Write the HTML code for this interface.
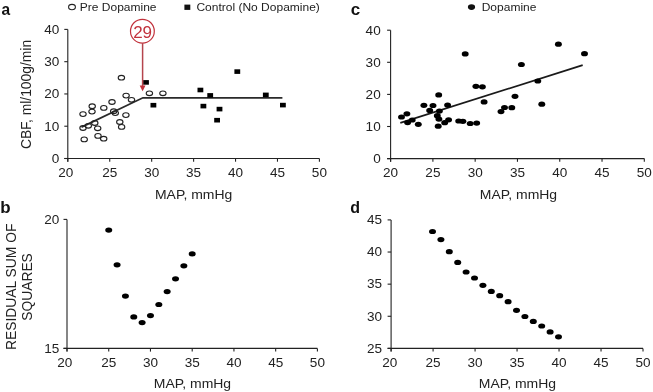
<!DOCTYPE html>
<html><head><meta charset="utf-8"><style>
html,body{margin:0;padding:0;background:#fff;width:653px;height:392px;overflow:hidden}
svg{display:block;font-family:"Liberation Sans", sans-serif;will-change:transform}
</style></head><body>
<svg width="653" height="392" viewBox="0 0 653 392">
<rect width="653" height="392" fill="#fff"/>
<line x1="67.80" y1="29.40" x2="67.80" y2="161.70" stroke="#222" stroke-width="1.1"/>
<line x1="64.30" y1="158.50" x2="319.41" y2="158.50" stroke="#222" stroke-width="1.1"/>
<line x1="64.30" y1="158.50" x2="67.80" y2="158.50" stroke="#222" stroke-width="1.1"/>
<text transform="translate(59.30,162.80) scale(1.02,1)" font-size="13.3" text-anchor="end" font-weight="normal" fill="#222">0</text>
<line x1="64.30" y1="126.22" x2="67.80" y2="126.22" stroke="#222" stroke-width="1.1"/>
<text transform="translate(59.30,130.53) scale(1.02,1)" font-size="13.3" text-anchor="end" font-weight="normal" fill="#222">10</text>
<line x1="64.30" y1="93.95" x2="67.80" y2="93.95" stroke="#222" stroke-width="1.1"/>
<text transform="translate(59.30,98.25) scale(1.02,1)" font-size="13.3" text-anchor="end" font-weight="normal" fill="#222">20</text>
<line x1="64.30" y1="61.68" x2="67.80" y2="61.68" stroke="#222" stroke-width="1.1"/>
<text transform="translate(59.30,65.98) scale(1.02,1)" font-size="13.3" text-anchor="end" font-weight="normal" fill="#222">30</text>
<line x1="64.30" y1="29.40" x2="67.80" y2="29.40" stroke="#222" stroke-width="1.1"/>
<text transform="translate(59.30,33.70) scale(1.02,1)" font-size="13.3" text-anchor="end" font-weight="normal" fill="#222">40</text>
<line x1="67.80" y1="158.50" x2="67.80" y2="161.70" stroke="#222" stroke-width="1.1"/>
<text transform="translate(65.80,176.60) scale(1.02,1)" font-size="13.3" text-anchor="middle" font-weight="normal" fill="#222">20</text>
<line x1="109.73" y1="158.50" x2="109.73" y2="161.70" stroke="#222" stroke-width="1.1"/>
<text transform="translate(109.73,176.60) scale(1.02,1)" font-size="13.3" text-anchor="middle" font-weight="normal" fill="#222">25</text>
<line x1="151.67" y1="158.50" x2="151.67" y2="161.70" stroke="#222" stroke-width="1.1"/>
<text transform="translate(151.67,176.60) scale(1.02,1)" font-size="13.3" text-anchor="middle" font-weight="normal" fill="#222">30</text>
<line x1="193.61" y1="158.50" x2="193.61" y2="161.70" stroke="#222" stroke-width="1.1"/>
<text transform="translate(193.61,176.60) scale(1.02,1)" font-size="13.3" text-anchor="middle" font-weight="normal" fill="#222">35</text>
<line x1="235.54" y1="158.50" x2="235.54" y2="161.70" stroke="#222" stroke-width="1.1"/>
<text transform="translate(235.54,176.60) scale(1.02,1)" font-size="13.3" text-anchor="middle" font-weight="normal" fill="#222">40</text>
<line x1="277.48" y1="158.50" x2="277.48" y2="161.70" stroke="#222" stroke-width="1.1"/>
<text transform="translate(277.48,176.60) scale(1.02,1)" font-size="13.3" text-anchor="middle" font-weight="normal" fill="#222">45</text>
<line x1="319.41" y1="158.50" x2="319.41" y2="161.70" stroke="#222" stroke-width="1.1"/>
<text transform="translate(319.41,176.60) scale(1.02,1)" font-size="13.3" text-anchor="middle" font-weight="normal" fill="#222">50</text>
<polyline points="81.5,127.1 142.9,97.8 282.4,97.85" fill="none" stroke="#2a2a2a" stroke-width="1.8"/>
<ellipse cx="121.4" cy="77.7" rx="3.2" ry="2.35" fill="none" stroke="#222" stroke-width="1.1"/>
<ellipse cx="126.1" cy="95.6" rx="3.2" ry="2.35" fill="none" stroke="#222" stroke-width="1.1"/>
<ellipse cx="131.5" cy="99.8" rx="3.2" ry="2.35" fill="none" stroke="#222" stroke-width="1.1"/>
<ellipse cx="112.0" cy="102.0" rx="3.2" ry="2.35" fill="none" stroke="#222" stroke-width="1.1"/>
<ellipse cx="92.2" cy="106.2" rx="3.2" ry="2.35" fill="none" stroke="#222" stroke-width="1.1"/>
<ellipse cx="92.0" cy="111.6" rx="3.2" ry="2.35" fill="none" stroke="#222" stroke-width="1.1"/>
<ellipse cx="103.8" cy="107.9" rx="3.2" ry="2.35" fill="none" stroke="#222" stroke-width="1.1"/>
<ellipse cx="83.0" cy="114.1" rx="3.2" ry="2.35" fill="none" stroke="#222" stroke-width="1.1"/>
<ellipse cx="113.7" cy="111.2" rx="3.2" ry="2.35" fill="none" stroke="#222" stroke-width="1.1"/>
<ellipse cx="115.3" cy="113.1" rx="3.2" ry="2.35" fill="none" stroke="#222" stroke-width="1.1"/>
<ellipse cx="125.9" cy="115.1" rx="3.2" ry="2.35" fill="none" stroke="#222" stroke-width="1.1"/>
<ellipse cx="119.8" cy="122.0" rx="3.2" ry="2.35" fill="none" stroke="#222" stroke-width="1.1"/>
<ellipse cx="121.6" cy="126.9" rx="3.2" ry="2.35" fill="none" stroke="#222" stroke-width="1.1"/>
<ellipse cx="94.8" cy="123.0" rx="3.2" ry="2.35" fill="none" stroke="#222" stroke-width="1.1"/>
<ellipse cx="88.3" cy="125.8" rx="3.2" ry="2.35" fill="none" stroke="#222" stroke-width="1.1"/>
<ellipse cx="83.0" cy="128.0" rx="3.2" ry="2.35" fill="none" stroke="#222" stroke-width="1.1"/>
<ellipse cx="97.7" cy="128.3" rx="3.2" ry="2.35" fill="none" stroke="#222" stroke-width="1.1"/>
<ellipse cx="98.0" cy="135.9" rx="3.2" ry="2.35" fill="none" stroke="#222" stroke-width="1.1"/>
<ellipse cx="103.7" cy="138.7" rx="3.2" ry="2.35" fill="none" stroke="#222" stroke-width="1.1"/>
<ellipse cx="84.2" cy="139.4" rx="3.2" ry="2.35" fill="none" stroke="#222" stroke-width="1.1"/>
<ellipse cx="149.4" cy="93.3" rx="3.2" ry="2.35" fill="none" stroke="#222" stroke-width="1.1"/>
<ellipse cx="162.9" cy="93.3" rx="3.2" ry="2.35" fill="none" stroke="#222" stroke-width="1.1"/>
<rect x="143.10" y="80.10" width="5.8" height="4.6" fill="#000"/>
<rect x="150.50" y="102.90" width="5.8" height="4.6" fill="#000"/>
<rect x="197.50" y="87.70" width="5.8" height="4.6" fill="#000"/>
<rect x="207.30" y="93.10" width="5.8" height="4.6" fill="#000"/>
<rect x="200.50" y="103.80" width="5.8" height="4.6" fill="#000"/>
<rect x="216.60" y="106.80" width="5.8" height="4.6" fill="#000"/>
<rect x="214.20" y="117.90" width="5.8" height="4.6" fill="#000"/>
<rect x="234.40" y="69.30" width="5.8" height="4.6" fill="#000"/>
<rect x="262.90" y="92.60" width="5.8" height="4.6" fill="#000"/>
<rect x="280.00" y="102.80" width="5.8" height="4.6" fill="#000"/>
<circle cx="142.4" cy="31.2" r="11.9" fill="#fff" stroke="#c2323c" stroke-width="1.2"/>
<text transform="translate(142.60,38.10)" font-size="17" text-anchor="middle" font-weight="normal" fill="#c2323c">29</text>
<line x1="142.60" y1="43.10" x2="142.60" y2="87.00" stroke="#b5454d" stroke-width="1.5"/>
<polygon points="139.7,85.6 145.5,85.6 142.6,91.2" fill="#c2323c"/>
<ellipse cx="72.0" cy="7.1" rx="3.4" ry="2.7" fill="none" stroke="#222" stroke-width="1.1"/>
<text transform="translate(79.80,10.60) scale(1.045,1)" font-size="11.5" text-anchor="start" font-weight="normal" fill="#222">Pre Dopamine</text>
<rect x="184.4" y="4.6" width="5.9" height="5.3" fill="#111"/>
<text transform="translate(196.40,10.60) scale(1.045,1)" font-size="11.5" text-anchor="start" font-weight="normal" fill="#222">Control (No Dopamine)</text>
<text transform="translate(1.50,15.20) scale(0.97,1)" font-size="16" text-anchor="start" font-weight="bold" fill="#111">a</text>
<text transform="translate(30.80,94.50) scale(1.045,1) rotate(-90)" font-size="13.85" text-anchor="middle" font-weight="normal" fill="#222">CBF, ml/100g/min</text>
<text transform="translate(193.60,199.10) scale(1.05,1)" font-size="13.3" text-anchor="middle" font-weight="normal" fill="#222">MAP, mmHg</text>
<line x1="390.60" y1="30.20" x2="390.60" y2="161.80" stroke="#222" stroke-width="1.1"/>
<line x1="387.10" y1="158.60" x2="644.31" y2="158.60" stroke="#222" stroke-width="1.1"/>
<line x1="387.10" y1="158.60" x2="390.60" y2="158.60" stroke="#222" stroke-width="1.1"/>
<text transform="translate(380.70,162.90) scale(1.02,1)" font-size="13.3" text-anchor="end" font-weight="normal" fill="#222">0</text>
<line x1="387.10" y1="126.50" x2="390.60" y2="126.50" stroke="#222" stroke-width="1.1"/>
<text transform="translate(380.70,130.80) scale(1.02,1)" font-size="13.3" text-anchor="end" font-weight="normal" fill="#222">10</text>
<line x1="387.10" y1="94.40" x2="390.60" y2="94.40" stroke="#222" stroke-width="1.1"/>
<text transform="translate(380.70,98.70) scale(1.02,1)" font-size="13.3" text-anchor="end" font-weight="normal" fill="#222">20</text>
<line x1="387.10" y1="62.30" x2="390.60" y2="62.30" stroke="#222" stroke-width="1.1"/>
<text transform="translate(380.70,66.60) scale(1.02,1)" font-size="13.3" text-anchor="end" font-weight="normal" fill="#222">30</text>
<line x1="387.10" y1="30.20" x2="390.60" y2="30.20" stroke="#222" stroke-width="1.1"/>
<text transform="translate(380.70,34.50) scale(1.02,1)" font-size="13.3" text-anchor="end" font-weight="normal" fill="#222">40</text>
<line x1="390.60" y1="158.60" x2="390.60" y2="161.80" stroke="#222" stroke-width="1.1"/>
<text transform="translate(390.60,176.60) scale(1.02,1)" font-size="13.3" text-anchor="middle" font-weight="normal" fill="#222">20</text>
<line x1="432.89" y1="158.60" x2="432.89" y2="161.80" stroke="#222" stroke-width="1.1"/>
<text transform="translate(432.89,176.60) scale(1.02,1)" font-size="13.3" text-anchor="middle" font-weight="normal" fill="#222">25</text>
<line x1="475.17" y1="158.60" x2="475.17" y2="161.80" stroke="#222" stroke-width="1.1"/>
<text transform="translate(475.17,176.60) scale(1.02,1)" font-size="13.3" text-anchor="middle" font-weight="normal" fill="#222">30</text>
<line x1="517.46" y1="158.60" x2="517.46" y2="161.80" stroke="#222" stroke-width="1.1"/>
<text transform="translate(517.46,176.60) scale(1.02,1)" font-size="13.3" text-anchor="middle" font-weight="normal" fill="#222">35</text>
<line x1="559.74" y1="158.60" x2="559.74" y2="161.80" stroke="#222" stroke-width="1.1"/>
<text transform="translate(559.74,176.60) scale(1.02,1)" font-size="13.3" text-anchor="middle" font-weight="normal" fill="#222">40</text>
<line x1="602.03" y1="158.60" x2="602.03" y2="161.80" stroke="#222" stroke-width="1.1"/>
<text transform="translate(602.03,176.60) scale(1.02,1)" font-size="13.3" text-anchor="middle" font-weight="normal" fill="#222">45</text>
<line x1="644.31" y1="158.60" x2="644.31" y2="161.80" stroke="#222" stroke-width="1.1"/>
<text transform="translate(644.31,176.60) scale(1.02,1)" font-size="13.3" text-anchor="middle" font-weight="normal" fill="#222">50</text>
<line x1="400.3" y1="122.9" x2="582.7" y2="65.2" stroke="#1a1a1a" stroke-width="1.75"/>
<ellipse cx="401.5" cy="117.0" rx="3.45" ry="2.6" fill="#000"/>
<ellipse cx="406.9" cy="113.8" rx="3.45" ry="2.6" fill="#000"/>
<ellipse cx="412.2" cy="120.0" rx="3.45" ry="2.6" fill="#000"/>
<ellipse cx="407.6" cy="122.6" rx="3.45" ry="2.6" fill="#000"/>
<ellipse cx="418.3" cy="124.3" rx="3.45" ry="2.6" fill="#000"/>
<ellipse cx="423.9" cy="105.3" rx="3.45" ry="2.6" fill="#000"/>
<ellipse cx="433.0" cy="105.5" rx="3.45" ry="2.6" fill="#000"/>
<ellipse cx="429.7" cy="110.4" rx="3.45" ry="2.6" fill="#000"/>
<ellipse cx="438.7" cy="94.9" rx="3.45" ry="2.6" fill="#000"/>
<ellipse cx="439.4" cy="111.1" rx="3.45" ry="2.6" fill="#000"/>
<ellipse cx="437.3" cy="115.7" rx="3.45" ry="2.6" fill="#000"/>
<ellipse cx="438.9" cy="119.1" rx="3.45" ry="2.6" fill="#000"/>
<ellipse cx="438.2" cy="126.2" rx="3.45" ry="2.6" fill="#000"/>
<ellipse cx="447.6" cy="105.1" rx="3.45" ry="2.6" fill="#000"/>
<ellipse cx="448.6" cy="119.8" rx="3.45" ry="2.6" fill="#000"/>
<ellipse cx="444.7" cy="122.7" rx="3.45" ry="2.6" fill="#000"/>
<ellipse cx="458.7" cy="121.0" rx="3.45" ry="2.6" fill="#000"/>
<ellipse cx="462.9" cy="121.3" rx="3.45" ry="2.6" fill="#000"/>
<ellipse cx="470.2" cy="123.5" rx="3.45" ry="2.6" fill="#000"/>
<ellipse cx="476.7" cy="123.1" rx="3.45" ry="2.6" fill="#000"/>
<ellipse cx="465.2" cy="53.9" rx="3.45" ry="2.6" fill="#000"/>
<ellipse cx="475.9" cy="86.3" rx="3.45" ry="2.6" fill="#000"/>
<ellipse cx="482.4" cy="86.8" rx="3.45" ry="2.6" fill="#000"/>
<ellipse cx="484.1" cy="101.9" rx="3.45" ry="2.6" fill="#000"/>
<ellipse cx="501.0" cy="111.6" rx="3.45" ry="2.6" fill="#000"/>
<ellipse cx="504.5" cy="107.5" rx="3.45" ry="2.6" fill="#000"/>
<ellipse cx="511.8" cy="107.7" rx="3.45" ry="2.6" fill="#000"/>
<ellipse cx="515.0" cy="96.3" rx="3.45" ry="2.6" fill="#000"/>
<ellipse cx="521.4" cy="64.5" rx="3.45" ry="2.6" fill="#000"/>
<ellipse cx="537.8" cy="81.0" rx="3.45" ry="2.6" fill="#000"/>
<ellipse cx="541.8" cy="104.2" rx="3.45" ry="2.6" fill="#000"/>
<ellipse cx="558.4" cy="44.2" rx="3.45" ry="2.6" fill="#000"/>
<ellipse cx="584.5" cy="53.7" rx="3.45" ry="2.6" fill="#000"/>
<ellipse cx="471.5" cy="7.1" rx="3.6" ry="2.8" fill="#111"/>
<text transform="translate(481.70,10.60) scale(1.045,1)" font-size="11.5" text-anchor="start" font-weight="normal" fill="#222">Dopamine</text>
<text transform="translate(350.80,15.40)" font-size="17" text-anchor="start" font-weight="bold" fill="#111">c</text>
<text transform="translate(518.50,199.10) scale(1.05,1)" font-size="13.3" text-anchor="middle" font-weight="normal" fill="#222">MAP, mmHg</text>
<line x1="67.00" y1="219.40" x2="67.00" y2="351.60" stroke="#222" stroke-width="1.1"/>
<line x1="63.50" y1="348.40" x2="317.41" y2="348.40" stroke="#222" stroke-width="1.1"/>
<line x1="63.50" y1="348.40" x2="67.00" y2="348.40" stroke="#222" stroke-width="1.1"/>
<text transform="translate(59.30,352.70) scale(1.02,1)" font-size="13.3" text-anchor="end" font-weight="normal" fill="#222">15</text>
<line x1="63.50" y1="219.40" x2="67.00" y2="219.40" stroke="#222" stroke-width="1.1"/>
<text transform="translate(59.30,223.70) scale(1.02,1)" font-size="13.3" text-anchor="end" font-weight="normal" fill="#222">20</text>
<line x1="67.00" y1="348.40" x2="67.00" y2="351.60" stroke="#222" stroke-width="1.1"/>
<text transform="translate(64.80,366.80) scale(1.02,1)" font-size="13.3" text-anchor="middle" font-weight="normal" fill="#222">20</text>
<line x1="108.73" y1="348.40" x2="108.73" y2="351.60" stroke="#222" stroke-width="1.1"/>
<text transform="translate(108.73,366.80) scale(1.02,1)" font-size="13.3" text-anchor="middle" font-weight="normal" fill="#222">25</text>
<line x1="150.47" y1="348.40" x2="150.47" y2="351.60" stroke="#222" stroke-width="1.1"/>
<text transform="translate(150.47,366.80) scale(1.02,1)" font-size="13.3" text-anchor="middle" font-weight="normal" fill="#222">30</text>
<line x1="192.20" y1="348.40" x2="192.20" y2="351.60" stroke="#222" stroke-width="1.1"/>
<text transform="translate(192.20,366.80) scale(1.02,1)" font-size="13.3" text-anchor="middle" font-weight="normal" fill="#222">35</text>
<line x1="233.94" y1="348.40" x2="233.94" y2="351.60" stroke="#222" stroke-width="1.1"/>
<text transform="translate(233.94,366.80) scale(1.02,1)" font-size="13.3" text-anchor="middle" font-weight="normal" fill="#222">40</text>
<line x1="275.67" y1="348.40" x2="275.67" y2="351.60" stroke="#222" stroke-width="1.1"/>
<text transform="translate(275.67,366.80) scale(1.02,1)" font-size="13.3" text-anchor="middle" font-weight="normal" fill="#222">45</text>
<line x1="317.41" y1="348.40" x2="317.41" y2="351.60" stroke="#222" stroke-width="1.1"/>
<text transform="translate(317.41,366.80) scale(1.02,1)" font-size="13.3" text-anchor="middle" font-weight="normal" fill="#222">50</text>
<ellipse cx="108.73" cy="230.1" rx="3.5" ry="2.6" fill="#000"/>
<ellipse cx="117.08" cy="264.8" rx="3.5" ry="2.6" fill="#000"/>
<ellipse cx="125.43" cy="296.1" rx="3.5" ry="2.6" fill="#000"/>
<ellipse cx="133.78" cy="316.9" rx="3.5" ry="2.6" fill="#000"/>
<ellipse cx="142.12" cy="322.6" rx="3.5" ry="2.6" fill="#000"/>
<ellipse cx="150.47" cy="315.6" rx="3.5" ry="2.6" fill="#000"/>
<ellipse cx="158.82" cy="304.5" rx="3.5" ry="2.6" fill="#000"/>
<ellipse cx="167.16" cy="291.6" rx="3.5" ry="2.6" fill="#000"/>
<ellipse cx="175.51" cy="278.8" rx="3.5" ry="2.6" fill="#000"/>
<ellipse cx="183.86" cy="265.8" rx="3.5" ry="2.6" fill="#000"/>
<ellipse cx="192.20" cy="253.9" rx="3.5" ry="2.6" fill="#000"/>
<text transform="translate(0.30,212.60) scale(1.06,1)" font-size="16" text-anchor="start" font-weight="bold" fill="#111">b</text>
<text transform="translate(15.90,286.80) scale(1.045,1) rotate(-90)" font-size="13.85" text-anchor="middle" font-weight="normal" fill="#222">RESIDUAL SUM OF</text>
<text transform="translate(32.20,287.00) scale(1.045,1) rotate(-90)" font-size="13.85" text-anchor="middle" font-weight="normal" fill="#222">SQUARES</text>
<text transform="translate(192.50,388.30) scale(1.05,1)" font-size="13.3" text-anchor="middle" font-weight="normal" fill="#222">MAP, mmHg</text>
<line x1="391.10" y1="219.90" x2="391.10" y2="351.60" stroke="#222" stroke-width="1.1"/>
<line x1="387.60" y1="348.40" x2="643.01" y2="348.40" stroke="#222" stroke-width="1.1"/>
<line x1="387.60" y1="348.40" x2="391.10" y2="348.40" stroke="#222" stroke-width="1.1"/>
<text transform="translate(382.00,352.70) scale(1.02,1)" font-size="13.3" text-anchor="end" font-weight="normal" fill="#222">25</text>
<line x1="387.60" y1="316.27" x2="391.10" y2="316.27" stroke="#222" stroke-width="1.1"/>
<text transform="translate(382.00,320.57) scale(1.02,1)" font-size="13.3" text-anchor="end" font-weight="normal" fill="#222">30</text>
<line x1="387.60" y1="284.15" x2="391.10" y2="284.15" stroke="#222" stroke-width="1.1"/>
<text transform="translate(382.00,288.45) scale(1.02,1)" font-size="13.3" text-anchor="end" font-weight="normal" fill="#222">35</text>
<line x1="387.60" y1="252.03" x2="391.10" y2="252.03" stroke="#222" stroke-width="1.1"/>
<text transform="translate(382.00,256.32) scale(1.02,1)" font-size="13.3" text-anchor="end" font-weight="normal" fill="#222">40</text>
<line x1="387.60" y1="219.90" x2="391.10" y2="219.90" stroke="#222" stroke-width="1.1"/>
<text transform="translate(382.00,224.20) scale(1.02,1)" font-size="13.3" text-anchor="end" font-weight="normal" fill="#222">45</text>
<line x1="391.10" y1="348.40" x2="391.10" y2="351.60" stroke="#222" stroke-width="1.1"/>
<text transform="translate(389.70,366.80) scale(1.02,1)" font-size="13.3" text-anchor="middle" font-weight="normal" fill="#222">20</text>
<line x1="433.09" y1="348.40" x2="433.09" y2="351.60" stroke="#222" stroke-width="1.1"/>
<text transform="translate(433.09,366.80) scale(1.02,1)" font-size="13.3" text-anchor="middle" font-weight="normal" fill="#222">25</text>
<line x1="475.07" y1="348.40" x2="475.07" y2="351.60" stroke="#222" stroke-width="1.1"/>
<text transform="translate(475.07,366.80) scale(1.02,1)" font-size="13.3" text-anchor="middle" font-weight="normal" fill="#222">30</text>
<line x1="517.06" y1="348.40" x2="517.06" y2="351.60" stroke="#222" stroke-width="1.1"/>
<text transform="translate(517.06,366.80) scale(1.02,1)" font-size="13.3" text-anchor="middle" font-weight="normal" fill="#222">35</text>
<line x1="559.04" y1="348.40" x2="559.04" y2="351.60" stroke="#222" stroke-width="1.1"/>
<text transform="translate(559.04,366.80) scale(1.02,1)" font-size="13.3" text-anchor="middle" font-weight="normal" fill="#222">40</text>
<line x1="601.03" y1="348.40" x2="601.03" y2="351.60" stroke="#222" stroke-width="1.1"/>
<text transform="translate(601.03,366.80) scale(1.02,1)" font-size="13.3" text-anchor="middle" font-weight="normal" fill="#222">45</text>
<line x1="643.01" y1="348.40" x2="643.01" y2="351.60" stroke="#222" stroke-width="1.1"/>
<text transform="translate(643.01,366.80) scale(1.02,1)" font-size="13.3" text-anchor="middle" font-weight="normal" fill="#222">50</text>
<ellipse cx="432.50" cy="231.5" rx="3.5" ry="2.6" fill="#000"/>
<ellipse cx="440.90" cy="239.6" rx="3.5" ry="2.6" fill="#000"/>
<ellipse cx="449.30" cy="251.7" rx="3.5" ry="2.6" fill="#000"/>
<ellipse cx="457.70" cy="262.4" rx="3.5" ry="2.6" fill="#000"/>
<ellipse cx="466.10" cy="272.0" rx="3.5" ry="2.6" fill="#000"/>
<ellipse cx="474.50" cy="278.0" rx="3.5" ry="2.6" fill="#000"/>
<ellipse cx="482.90" cy="285.3" rx="3.5" ry="2.6" fill="#000"/>
<ellipse cx="491.30" cy="291.4" rx="3.5" ry="2.6" fill="#000"/>
<ellipse cx="499.70" cy="295.7" rx="3.5" ry="2.6" fill="#000"/>
<ellipse cx="508.10" cy="301.7" rx="3.5" ry="2.6" fill="#000"/>
<ellipse cx="516.50" cy="310.3" rx="3.5" ry="2.6" fill="#000"/>
<ellipse cx="524.90" cy="316.5" rx="3.5" ry="2.6" fill="#000"/>
<ellipse cx="533.30" cy="321.4" rx="3.5" ry="2.6" fill="#000"/>
<ellipse cx="541.70" cy="326.0" rx="3.5" ry="2.6" fill="#000"/>
<ellipse cx="550.10" cy="331.9" rx="3.5" ry="2.6" fill="#000"/>
<ellipse cx="558.50" cy="336.8" rx="3.5" ry="2.6" fill="#000"/>
<text transform="translate(350.20,212.60)" font-size="16" text-anchor="start" font-weight="bold" fill="#111">d</text>
<text transform="translate(517.40,388.30) scale(1.05,1)" font-size="13.3" text-anchor="middle" font-weight="normal" fill="#222">MAP, mmHg</text>
</svg>
</body></html>
